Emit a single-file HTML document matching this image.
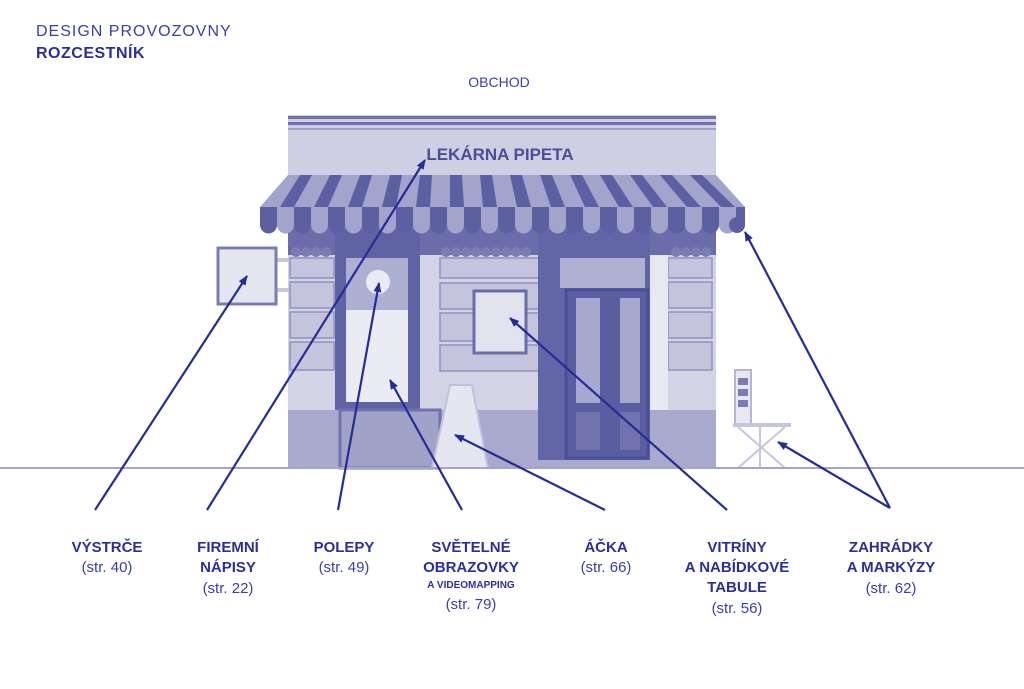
<!DOCTYPE html>
<html><head><meta charset="utf-8"><style>
html,body{margin:0;padding:0;background:#fff;}
svg{display:block;font-family:"Liberation Sans",sans-serif;}
.b{font-weight:bold;font-size:15px;fill:#2b2f9c;text-anchor:middle;}
.s{font-size:15px;fill:#3a3fa8;text-anchor:middle;}
</style></head><body>
<svg width="1024" height="689" viewBox="0 0 1024 689">
<defs>
<marker id="a" markerWidth="10" markerHeight="8" refX="9" refY="4" orient="auto" markerUnits="userSpaceOnUse">
<path d="M0,0 L10,4 L0,8 Z" fill="#262c96"/></marker>
<pattern id="st" x="260" y="0" width="34" height="40" patternUnits="userSpaceOnUse">
<rect width="17" height="40" fill="#5c60a3"/><rect x="17" width="17" height="40" fill="#a2a4cb"/>
</pattern>
</defs>
<text x="36" y="36" font-size="16" fill="#3a3fa8" letter-spacing="1">DESIGN PROVOZOVNY</text>
<text x="36" y="58" font-size="16" font-weight="bold" fill="#2b2f9c" letter-spacing="0.5">ROZCESTNÍK</text>
<text x="499" y="87" font-size="14" fill="#3a3fa8" text-anchor="middle">OBCHOD</text>

<rect x="288" y="115" width="428" height="353" fill="#cfcfe3"/>
<rect x="288" y="116" width="428" height="3" fill="#6e71ad"/>
<rect x="288" y="122" width="428" height="3" fill="#6e71ad"/>
<rect x="288" y="128" width="428" height="2" fill="#9fa1c8"/>
<text x="500" y="160" font-size="17" fill="#4a4e96" text-anchor="middle" font-weight="bold">LEKÁRNA PIPETA</text>
<rect x="288" y="225" width="428" height="30" fill="#6a6daa"/>
<rect x="288" y="255" width="428" height="155" fill="#d3d3e6"/>
<rect x="288" y="410" width="428" height="58" fill="#a8a9cc"/>
<g fill="#c4c4dc" stroke="#8f91bf" stroke-width="1.5">
<rect x="290" y="258" width="44" height="20"/><rect x="290" y="282" width="44" height="26"/><rect x="290" y="312" width="44" height="26"/><rect x="290" y="342" width="44" height="28"/>
<rect x="668" y="258" width="44" height="20"/><rect x="668" y="282" width="44" height="26"/><rect x="668" y="312" width="44" height="26"/><rect x="668" y="342" width="44" height="28"/>
<rect x="440" y="258" width="120" height="20"/><rect x="440" y="283" width="120" height="26"/><rect x="440" y="313" width="120" height="28"/><rect x="440" y="345" width="120" height="26"/>
</g>
<rect x="335" y="230" width="85" height="180" fill="#5f63a4"/>
<rect x="346" y="258" width="62" height="52" fill="#aeb0d2"/>
<rect x="346" y="310" width="62" height="92" fill="#ebebf4"/>
<circle cx="378" cy="282" r="12" fill="#ebebf4"/>
<rect x="340" y="410" width="100" height="58" fill="#a0a2c8" stroke="#7073ad" stroke-width="3"/>
<rect x="538" y="230" width="112" height="230" fill="#6266a6"/>
<rect x="560" y="258" width="85" height="30" fill="#b0b1d2"/>
<rect x="566" y="290" width="82" height="168" fill="#5a5ea0" stroke="#4a4e96" stroke-width="3"/>
<rect x="576" y="298" width="24" height="105" fill="#a6a8cd"/>
<rect x="620" y="298" width="20" height="105" fill="#a6a8cd"/>
<rect x="576" y="412" width="24" height="38" fill="#7073ad"/>
<rect x="620" y="412" width="20" height="38" fill="#7073ad"/>
<rect x="650" y="255" width="18" height="155" fill="#e8e8f2"/>
<rect x="474" y="291" width="52" height="62" fill="#e3e3ef" stroke="#6a6daa" stroke-width="3"/>
<g fill="#7a7db4">
<circle cx="296" cy="252" r="5"/><circle cx="306" cy="252" r="5"/><circle cx="316" cy="252" r="5"/><circle cx="326" cy="252" r="5"/>
<circle cx="446" cy="252" r="5"/><circle cx="456" cy="252" r="5"/><circle cx="466" cy="252" r="5"/><circle cx="476" cy="252" r="5"/><circle cx="486" cy="252" r="5"/><circle cx="496" cy="252" r="5"/><circle cx="506" cy="252" r="5"/><circle cx="516" cy="252" r="5"/><circle cx="526" cy="252" r="5"/>
<circle cx="676" cy="252" r="5"/><circle cx="686" cy="252" r="5"/><circle cx="696" cy="252" r="5"/><circle cx="706" cy="252" r="5"/>
</g>
<!-- awning -->
<path d="M288 175 L716 175 L745 207 L260 207 Z" fill="#a2a4cb"/>
<g fill="#5c60a3">
<path d="M300 175 h12 l-18 32 h-14z"/><path d="M330 175 h12 l-14 32 h-14z"/><path d="M360 175 h12 l-10 32 h-14z"/>
<path d="M390 175 h12 l-6 32 h-14z"/><path d="M420 175 h12 l-2 32 h-14z"/><path d="M450 175 h12 l2 32 h-14z"/>
<path d="M480 175 h12 l5 32 h-14z"/><path d="M510 175 h12 l9 32 h-14z"/><path d="M540 175 h12 l13 32 h-14z"/>
<path d="M570 175 h12 l17 32 h-14z"/><path d="M600 175 h12 l21 32 h-14z"/><path d="M630 175 h12 l25 32 h-14z"/>
<path d="M660 175 h12 l29 32 h-14z"/><path d="M690 175 h12 l33 32 h-14z"/>
</g>
<rect x="260" y="207" width="485" height="18" fill="url(#st)"/>
<g>
<circle cx="268.5" cy="225" r="8.5" fill="#5c60a3"/><circle cx="285.5" cy="225" r="8.5" fill="#a2a4cb"/>
<circle cx="302.5" cy="225" r="8.5" fill="#5c60a3"/><circle cx="319.5" cy="225" r="8.5" fill="#a2a4cb"/>
<circle cx="336.5" cy="225" r="8.5" fill="#5c60a3"/><circle cx="353.5" cy="225" r="8.5" fill="#a2a4cb"/>
<circle cx="370.5" cy="225" r="8.5" fill="#5c60a3"/><circle cx="387.5" cy="225" r="8.5" fill="#a2a4cb"/>
<circle cx="404.5" cy="225" r="8.5" fill="#5c60a3"/><circle cx="421.5" cy="225" r="8.5" fill="#a2a4cb"/>
<circle cx="438.5" cy="225" r="8.5" fill="#5c60a3"/><circle cx="455.5" cy="225" r="8.5" fill="#a2a4cb"/>
<circle cx="472.5" cy="225" r="8.5" fill="#5c60a3"/><circle cx="489.5" cy="225" r="8.5" fill="#a2a4cb"/>
<circle cx="506.5" cy="225" r="8.5" fill="#5c60a3"/><circle cx="523.5" cy="225" r="8.5" fill="#a2a4cb"/>
<circle cx="540.5" cy="225" r="8.5" fill="#5c60a3"/><circle cx="557.5" cy="225" r="8.5" fill="#a2a4cb"/>
<circle cx="574.5" cy="225" r="8.5" fill="#5c60a3"/><circle cx="591.5" cy="225" r="8.5" fill="#a2a4cb"/>
<circle cx="608.5" cy="225" r="8.5" fill="#5c60a3"/><circle cx="625.5" cy="225" r="8.5" fill="#a2a4cb"/>
<circle cx="642.5" cy="225" r="8.5" fill="#5c60a3"/><circle cx="659.5" cy="225" r="8.5" fill="#a2a4cb"/>
<circle cx="676.5" cy="225" r="8.5" fill="#5c60a3"/><circle cx="693.5" cy="225" r="8.5" fill="#a2a4cb"/>
<circle cx="710.5" cy="225" r="8.5" fill="#5c60a3"/><circle cx="727.5" cy="225" r="8.5" fill="#a2a4cb"/>
<circle cx="737" cy="225" r="8" fill="#5c60a3"/>
</g>
<rect x="277" y="258" width="12" height="4" fill="#c6c6de"/><rect x="277" y="288" width="12" height="4" fill="#c6c6de"/>
<rect x="218" y="248" width="58" height="56" fill="#e6e6f1" stroke="#7a7db4" stroke-width="3"/>
<path d="M450 385 L472 385 L488 468 L432 468 Z" fill="#e6e6f1" stroke="#c0c1dc" stroke-width="2"/>
<rect x="735" y="370" width="16" height="55" fill="#e8e8f2" stroke="#b5b6d5" stroke-width="2"/>
<rect x="738" y="378" width="10" height="7" fill="#7a7db4"/><rect x="738" y="389" width="10" height="7" fill="#7a7db4"/><rect x="738" y="400" width="10" height="7" fill="#7a7db4"/>
<rect x="733" y="423" width="58" height="4" fill="#c4c5df"/>
<path d="M738 427 L785 468 M785 427 L738 468 M760 427 L760 468" stroke="#c4c5df" stroke-width="2"/>
<rect x="0" y="467" width="1024" height="2" fill="#a3a5cb"/>

<g stroke="#262c96" stroke-width="2.2" fill="none" marker-end="url(#a)">
<line x1="95" y1="510" x2="247" y2="276"/>
<line x1="207" y1="510" x2="425" y2="160"/>
<line x1="338" y1="510" x2="379" y2="283"/>
<line x1="462" y1="510" x2="390" y2="380"/>
<line x1="605" y1="510" x2="455" y2="435"/>
<line x1="727" y1="510" x2="510" y2="318"/>
<line x1="890" y1="508" x2="745" y2="232"/>
<line x1="890" y1="508" x2="778" y2="442"/>
</g>

<text class="b" x="107" y="552">VÝSTRČE</text><text class="s" x="107" y="572">(str. 40)</text>
<text class="b" x="228" y="552">FIREMNÍ</text><text class="b" x="228" y="572">NÁPISY</text><text class="s" x="228" y="593">(str. 22)</text>
<text class="b" x="344" y="552">POLEPY</text><text class="s" x="344" y="572">(str. 49)</text>
<text class="b" x="471" y="552">SVĚTELNÉ</text><text class="b" x="471" y="572">OBRAZOVKY</text><text class="b" x="471" y="588" style="font-size:10px">A VIDEOMAPPING</text><text class="s" x="471" y="609">(str. 79)</text>
<text class="b" x="606" y="552">ÁČKA</text><text class="s" x="606" y="572">(str. 66)</text>
<text class="b" x="737" y="552">VITRÍNY</text><text class="b" x="737" y="572">A NABÍDKOVÉ</text><text class="b" x="737" y="592">TABULE</text><text class="s" x="737" y="613">(str. 56)</text>
<text class="b" x="891" y="552">ZAHRÁDKY</text><text class="b" x="891" y="572">A MARKÝZY</text><text class="s" x="891" y="593">(str. 62)</text>
</svg>
</body></html>
